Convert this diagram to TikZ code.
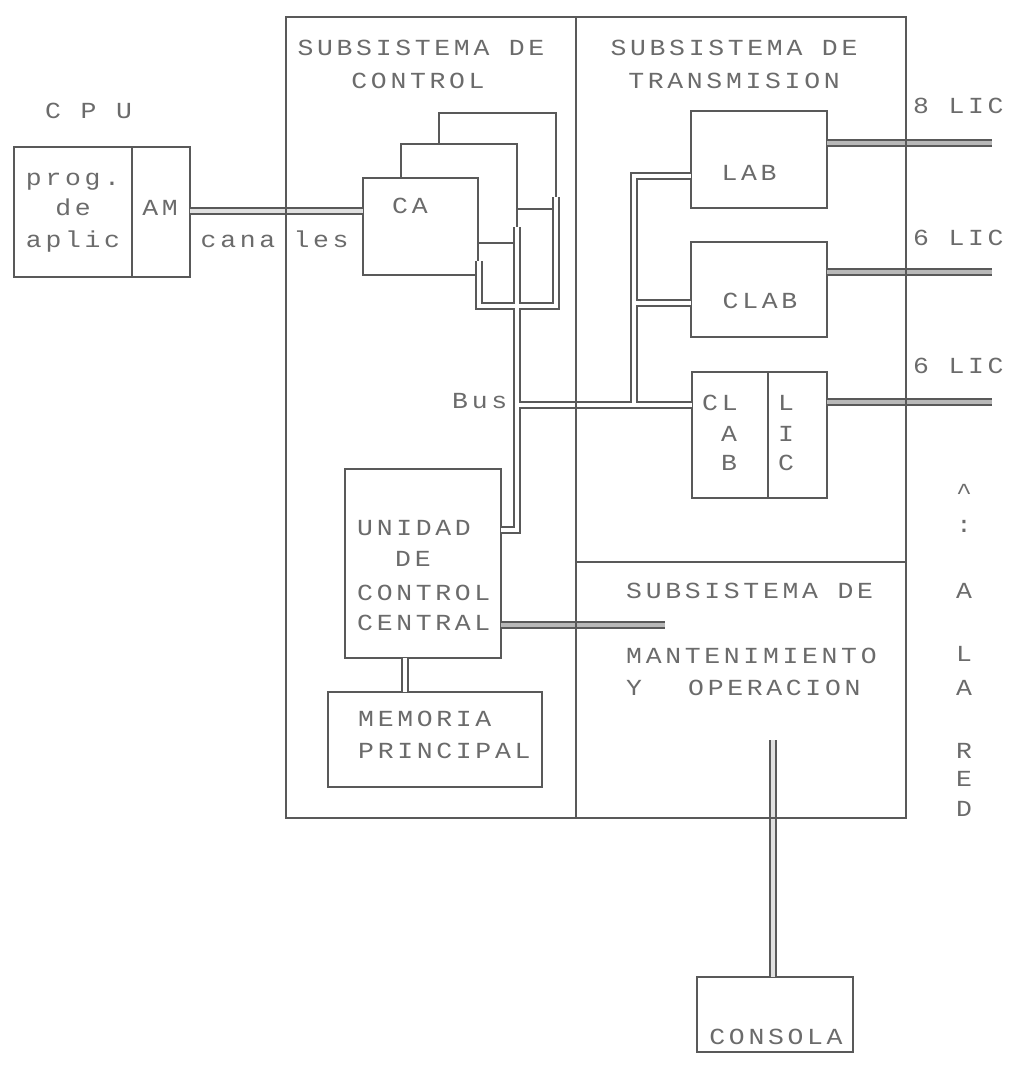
\documentclass[tikz,border=0pt]{standalone}
\usepackage{fontspec}
\newfontfamily\dotfont[FakeStretch=1.15,LetterSpace=16]{Liberation Mono}
\definecolor{ink}{gray}{0.35}
\definecolor{txt}{gray}{0.42}
\begin{document}
\begin{tikzpicture}[x=1pt,y=-1pt,
  box/.style={draw=ink, line width=1.4pt, fill=white, inner sep=0pt, outer sep=0pt},
  frame/.style={draw=ink, line width=1.4pt},
  lbl/.style={text=txt, font=\dotfont\fontsize{23}{23}\selectfont, inner sep=0pt, anchor=base},
  lblw/.style={lbl, anchor=base west},
  busout/.style={draw=ink, line width=7.5pt},
  busin/.style={draw=white, line width=4.5pt},
  dblw/.style={draw=ink, line width=1.5pt, double=white, double distance=4.5pt},
  dblg/.style={draw=ink, line width=1.5pt, double=black!28, double distance=4.5pt},
  dbll/.style={draw=ink, line width=1.5pt, double=black!12, double distance=4.5pt},
]
\useasboundingbox (0,0) rectangle (1012,1068);

% ---------- boxes ----------
\node[box, minimum width=176, minimum height=130] (cpu) at (102,212) {};
\node[box, minimum width=117, minimum height=96] (ca3) at (497.5,161) {};
\node[box, minimum width=116, minimum height=99] (ca2) at (459,193.5) {};
\node[box, minimum width=115, minimum height=97] (ca) at (420.5,226.5) {};
\node[box, minimum width=136, minimum height=97] (lab) at (759,159.5) {};
\node[box, minimum width=136, minimum height=95] (clab) at (759,289.5) {};
\node[box, minimum width=135, minimum height=126] (cl) at (759.5,435) {};
\node[box, minimum width=156, minimum height=189] (unidad) at (423,563.5) {};
\node[box, minimum width=214, minimum height=95] (mem) at (435,739.5) {};
\node[box, minimum width=156, minimum height=75] (consola) at (775,1014.5) {};

% inner dividers
\coordinate (cpud) at (132,0);
\coordinate (cld) at (768,0);
\draw[frame] (cpu.north -| cpud) -- (cpu.south -| cpud);
\draw[frame] (cl.north -| cld) -- (cl.south -| cld);

% ---------- bus coordinates ----------
\coordinate (uL) at (479,261);
\coordinate (uLb) at (479,306);
\coordinate (uRb) at (556,306);
\coordinate (uR) at (556,197);
\coordinate (bT) at (517,227);
\coordinate (bB) at (517,530);
\coordinate (bJ) at (517,405);
\coordinate (brJ) at (634,405);
\coordinate (brT) at (634,176);
\coordinate (brM) at (634,303);
\coordinate (um) at (405,0);
\coordinate (amR) at (190,211);
\coordinate (ucy) at (0,625);
\coordinate (ucE) at (665,625);
\coordinate (o1) at (992,143);
\coordinate (o2) at (992,272);
\coordinate (o3) at (992,402);
\coordinate (csT) at (773,740);

\newcommand\internalbuses[1]{%
  \draw[#1] (uL) -- (uLb) -- (uRb) -- (uR);
  \draw[#1] (bT) -- (bB) -- (bB -| unidad.east);
  \draw[#1] (bJ) -- (bJ -| cl.west);
  \draw[#1] (brJ) -- (brT) -- (brT -| lab.west);
  \draw[#1] (brM) -- (brM -| clab.west);
}
\internalbuses{busout}
\internalbuses{busin}

\draw[dblw] (unidad.south -| um) -- (mem.north -| um);
\draw[dbll] (amR) -- (amR -| ca.west);
\draw[dblg] (unidad.east |- ucy) -- (ucE);
\draw[dblg] (lab.east |- o1) -- (o1);
\draw[dblg] (clab.east |- o2) -- (o2);
\draw[dblg] (cl.east |- o3) -- (o3);
\draw[dbll] (csT) -- (csT |- consola.north);

% ---------- system frame ----------
\node[draw=ink, line width=1.4pt, inner sep=0pt, outer sep=0pt,
      minimum width=620, minimum height=801] (sys) at (596,417.5) {};
\coordinate (dv) at (576,0);
\coordinate (hm) at (576,562);
\draw[frame] (sys.north -| dv) -- (sys.south -| dv);
\draw[frame] (hm) -- (hm -| sys.east);

% ---------- texts ----------
\node[lblw] (tcpu) at (45,118) {C P U};
\node[lbl] (tprog) at (73,185) {prog.};
\node[lbl] (tde) at (73,215) {de};
\node[lbl] (taplic) at (73,247) {aplic};
\node[lbl] (tam) at (160,215) {AM};
\node[lbl] (tcana) at (238,247) {cana};
\node[lbl] (tles) at (321,247) {les};
\node[lblw] (tca) at (392,213) {CA};

\node[lbl] (tsc1) at (421,55) {SUBSISTEMA DE};
\node[lbl] (tsc2) at (418,88) {CONTROL};
\node[lbl] (tst1) at (734,55) {SUBSISTEMA DE};
\node[lbl] (tst2) at (734,88) {TRANSMISION};

\node[lbl] (tlab) at (749,180) {LAB};
\node[lbl] (tclab) at (760,308) {CLAB};
\node[lblw] (tcl1) at (702,410) {CL};
\node[lblw] (tcl2) at (721,441) {A};
\node[lblw] (tcl3) at (721,470) {B};
\node[lblw] (tli1) at (778,410) {L};
\node[lblw] (tli2) at (778,441) {I};
\node[lblw] (tli3) at (778,470) {C};

\node[lblw] (tlic1) at (913,113) {8 LIC};
\node[lblw] (tlic2) at (913,245) {6 LIC};
\node[lblw] (tlic3) at (913,373) {6 LIC};

\node[lblw] (tbus) at (452,408) {Bus};

\node[lblw] (tu1) at (357,535) {UNIDAD};
\node[lblw] (tu2) at (395,566) {DE};
\node[lblw] (tu3) at (357,600) {CONTROL};
\node[lblw] (tu4) at (357,630) {CENTRAL};
\node[lblw] (tm1) at (358,726) {MEMORIA};
\node[lblw] (tm2) at (358,758) {PRINCIPAL};

\node[lblw] (tmo1) at (626,598) {SUBSISTEMA DE};
\node[lblw] (tmo2) at (626,663) {MANTENIMIENTO};
\node[lblw] (tmo3) at (626,695) {Y};
\node[lblw] (tmo4) at (688,695) {OPERACION};

\node[lbl] (tcons) at (776,1044) {CONSOLA};

\node[lbl] (tr1) at (964,499) {\textasciicircum};
\node[lbl] (tr2) at (964,532) {:};
\node[lbl] (tr3) at (964,598) {A};
\node[lbl] (tr4) at (964,661) {L};
\node[lbl] (tr5) at (964,695) {A};
\node[lbl] (tr6) at (964,758) {R};
\node[lbl] (tr7) at (964,786) {E};
\node[lbl] (tr8) at (964,816) {D};
\end{tikzpicture}
\end{document}
